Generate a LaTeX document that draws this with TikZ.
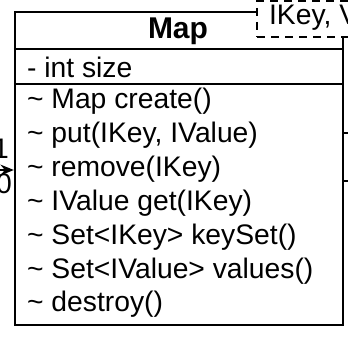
\documentclass[tikz,border=0pt]{standalone}
\usepackage{fontspec}
\setmainfont{Liberation Sans}
\usetikzlibrary{arrows.meta, positioning}

\begin{document}
\begin{tikzpicture}[x=0.75pt, y=-0.75pt, line width=1.7pt,
    member/.style={anchor=west, inner sep=0pt, font=\fontsize{21.2pt}{25pt}\selectfont}]
      \useasboundingbox (0,0) rectangle (348,336);
      \clip (0,0) rectangle (348,336);

      % class box
      \node[draw, minimum width=246pt, minimum height=234.75pt, inner sep=0pt] (map) at (179,168.5) {};
      \node[inner sep=0pt, font=\fontsize{22.5pt}{26pt}\selectfont\bfseries] (title) at (178,31) {Map};
      \draw (map.west |- 0,49) coordinate (d1) -- (d1 -| map.east);
      \draw (map.west |- 0,84) coordinate (d2) -- (d2 -| map.east);

      \node[member] (size) at (26,67) {- int size};
      \node[member] (create) at (26,101) {\textasciitilde{} Map create()};
      \node[member] (put) at (26,135) {\textasciitilde{} put(IKey, IValue)};
      \node[member] (remove) at (26,169) {\textasciitilde{} remove(IKey)};
      \node[member] (get) at (26,203) {\textasciitilde{} IValue get(IKey)};
      \node[member] (keyset) at (26,237) {\textasciitilde{} Set<IKey> keySet()};
      \node[member] (values) at (26,271) {\textasciitilde{} Set<IValue> values()};
      \node[member] (destroy) at (26,304) {\textasciitilde{} destroy()};

      % template parameters
      \node[draw, dashed, dash pattern=on 6pt off 4.5pt, fill=white, anchor=north west,
            minimum width=120pt, minimum height=27.5pt, inner sep=0pt] (params) at (256,-0.5) {};
      \node[member] (ptext) at (268,18) {IKey, V};

      % connectors
      \coordinate (src) at (-40,170);
      \draw[-{Stealth[length=10pt, width=8pt]}] (src) -- (src -| map.west);
      \node[member, anchor=east] (mult1) at (10,149) {1};
      \node[member, anchor=east] (mult2) at (13,184) {0};
      \coordinate (out1) at (360,133);
      \coordinate (out2) at (360,181);
      \draw[line width=1pt] (out1 -| map.east) -- (out1);
      \draw[line width=1pt] (out2 -| map.east) -- (out2);
\end{tikzpicture}
\end{document}
